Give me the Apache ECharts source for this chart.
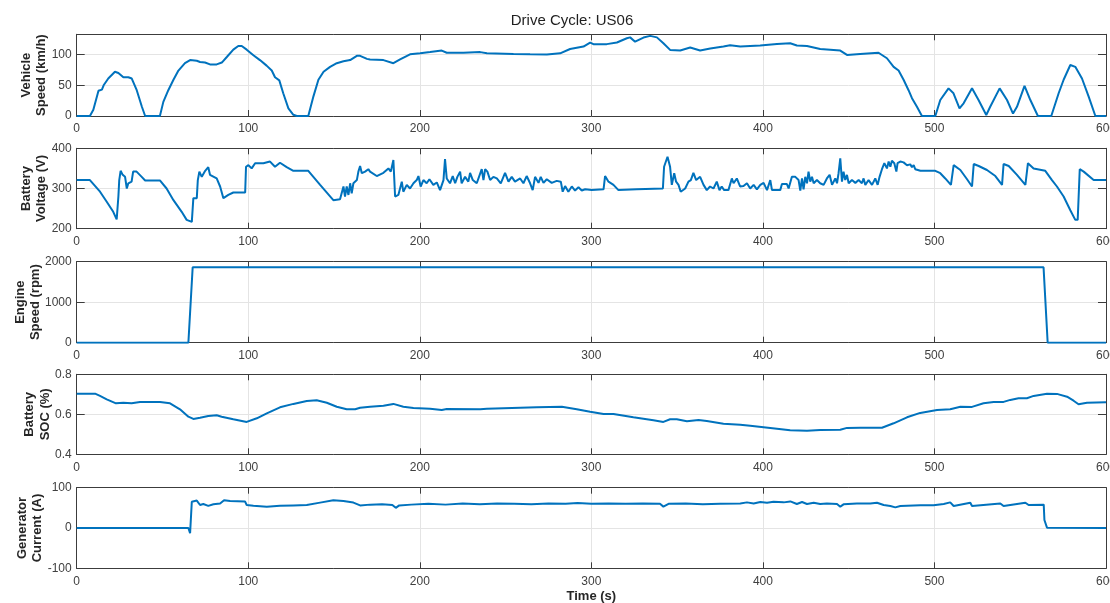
<!DOCTYPE html>
<html><head><meta charset="utf-8">
<script src="https://cdn.jsdelivr.net/npm/echarts@6/dist/echarts.min.js"></script>
<style>html,body{margin:0;padding:0;background:#fff}#c{width:1110px;height:603px}</style>
</head><body><div id="c"></div>
<script>
const titleText = 'Drive Cycle: US06';
const xName = 'Time (s)';
const panelNames = ['Vehicle\nSpeed (km/h)', 'Battery\nVoltage (V)', 'Engine\nSpeed (rpm)', 'Battery\nSOC (%)', 'Generator\nCurrent (A)'];
const xLimits = [0, 600];
const xStep = 100;
const yMins = [0, 200, 0, 0.4, -100];
const yMaxs = [133, 400, 2000, 0.8, 100];
const ySteps = [50, 100, 1000, 0.2, 100];

const speedTime = [0,7.7,9.7,12.7,14.7,15.7,18.4,22.3,24.3,27.2,30.1,32.1,35,38,39.9,48.5,50.5,53.4,56.4,59.3,63.1,66.1,70,71.9,74.8,77.7,81.6,84.6,87.5,91.3,94.2,96.2,99.1,103,106.8,110.7,113.7,115.6,118.1,120.4,123.4,126.3,128.3,135,138,140.9,143.9,147.7,151.6,155.5,159.4,163.3,165.2,169.2,171,178.8,184.6,188.5,194.3,200.2,206,212.8,215.7,225.4,235.2,239.1,254.6,264.3,274.1,281.8,287.6,295.4,299.3,301.2,309,314.9,320.7,322.6,325.5,330.4,334.3,338.2,342,345.9,351.8,357.6,363.4,369.3,377,380.9,386.8,398.4,408.2,415.9,419.8,425.7,433.4,445.1,449,456.7,467.4,472.3,476.2,479.1,482,484.9,486.9,489.8,492.7,500.5,503.4,508.2,511.1,514.6,517,521.9,525.7,530.2,532.5,538,542.3,545.8,548.1,552.5,555.9,560.3,568.1,572.4,575.3,579.2,582.1,586,589.9,593.8,600];
const speedValue = [0,0,10,41,43,50,61,72,70,63,63,61,42,15,0,0,23,42,59,74,86,91,90,88,87,84,84,87,96,108,114,114,108,99,91,82,74,63,58,37,12.5,2,0,0,32,59,72,80,86,89,91,98,98,93,92,91,86,92,100.5,102,104,106.5,103,103,104,102,101,100.5,100,102,109,113,119.6,117,117,119.6,126.6,128,121,127.7,130.4,128,118.5,107.6,106.5,111.4,106.5,110,113,115,113,114.7,117.4,118.5,114.7,114,109,106.5,99.5,101,103,94,80,74,59,42,29,15,0,0,26,45,37,12.5,20.6,45,26,1.6,15,45,26,4,15,49,26,0,0,37,59,83,80,61,31.5,0,0];

const voltagePoints = [[0,321],[7.7,321],[13.6,292],[17.5,267],[21.3,242],[23.3,223],[24.3,280],[24.8,321],[25.6,344],[26.8,334],[28.2,329],[29.2,300],[30.1,313],[31,309],[32,317],[32.9,342],[34.9,342],[37.9,329],[39.9,320],[48.5,320],[52.4,300],[56.4,271],[61.2,242],[64.1,222],[67.1,217],[68,276],[70,276],[70.6,321],[71.5,342],[72.9,329],[74.9,344],[76.7,353],[77.7,334],[81.6,325],[83.6,305],[85.5,276],[88.4,284],[91.3,290],[98.2,290],[98.7,354],[100.1,358],[102,350],[104,363],[108.8,363],[112.7,367],[113.6,363],[115.6,354],[116.6,356],[118.5,364],[122.4,353],[126.3,344],[135,344],[141.9,309],[149.6,271],[153.5,273],[155.5,305],[156.4,280],[157.4,305],[158.4,284],[159.4,313],[160.3,288],[161.3,313],[163.3,321],[164.2,342],[165.2,356],[166.2,338],[168.1,342],[170,348],
[171,342],[174.9,331],[178.8,339],[181.7,350],[183.1,342],[184.6,371],[185.6,280],[187.5,284],[189.5,317],[190.4,292],[192.4,309],[194.3,300],[196.3,313],[198.2,321],[199.2,331],[200.5,305],[202.1,321],[204,313],[205.6,323],[207.9,309],[209.9,315],[211.8,296],[213.8,321],[214.7,373],[215.7,325],[217.6,313],[219.2,331],[220.6,313],[221.9,329],[223.5,342],[224.4,313],[226.4,329],[228.3,317],[229.3,339],[230.9,321],[233.2,313],[236.1,348],[237.1,321],[238.1,348],[239.4,342],[241,321],[242.9,329],[244.9,325],[247.2,313],[249.7,339],[251.7,317],[253.6,329],[255.5,317],[258.5,325],[260.4,313],[262.3,331],[264.3,313],[265.8,296],[267.2,329],[269.2,314],[270.5,329],[272.1,314],[274,323],[276.9,314],[279.8,319],[282.2,317],[283.3,292],[284.7,306],[286.6,292],[288.6,305],[290.5,295],[292.5,303],[294.4,295],[296.4,298],[300.2,296],[307.1,298],[308,331],[310,317],[312.9,309],[315.8,296],[326.5,298],[341.7,300],[342.4,354],[344.4,379],[345.9,354],[346.9,309],[348.3,338],[349.4,317],[350.8,309],[352.1,292],[354.7,300],[356.6,317],[358,321],[359.5,339],[361.1,321],[363.4,329],[365.4,309],[367.3,296],[369.2,305],[371.2,300],[373.1,317],[374.7,296],[376,305],[377.4,296],[379.9,296],[381.9,325],[382.9,313],[384.8,325],[386.7,305],
[388.7,306],[390.7,313],[392.6,300],[394.6,309],[396.5,298],[398.5,309],[400.4,314],[402.4,296],[404.3,321],[405.3,296],[410.1,296],[411.1,311],[414,311],[415,300],[416,298],[416.9,329],[418.9,329],[420.8,321],[421.8,295],[422.8,325],[423.7,298],[424.7,329],[425.7,313],[426.6,342],[427.6,317],[428.6,329],[429.6,313],[431.5,321],[433.4,313],[435.4,309],[437.3,325],[438.9,334],[440.3,309],[442.2,325],[443.2,313],[444.1,338],[445.1,375],[446.1,317],[447,342],[448,321],[449,334],[450,313],[451.9,321],[453.9,314],[455.8,321],[457.7,313],[458.7,325],[459.7,309],[461.6,321],[463.6,309],[465.5,325],[466.9,309],[468,329],[469.4,348],[470.8,363],[472.3,350],[473.3,367],[474.3,354],[475.2,369],[476.6,363],[477.8,342],[478.5,363],[480.1,367],[482,365],[484,358],[485.9,360],[486.9,353],[487.9,358],[488.8,348],[491.8,344],[500.5,344],[503.4,338],[506.3,325],[509.6,309],[511.2,358],[515.1,346],[519,323],[521.9,305],[522.9,361],[525.8,356],[530.6,346],[535.5,331],[539.4,309],[540.3,361],[543.3,356],[548.1,334],[553,309],[554.5,363],[557.8,350],[564.6,344],[568.5,321],[571.4,305],[575.3,280],[579.2,246],[582.1,222],[583.5,222],[584.7,348],[587,342],[592.8,321],[600,321]];

const enginePoints = [[0,0],[65.1,0],[67.6,1860],[563.6,1860],[566,0],[600,0]];

const socPoints = [[0,0.703],[10.7,0.703],[13.6,0.692],[17.5,0.675],[22.9,0.655],[27.2,0.658],[32,0.655],[36.9,0.662],[48.6,0.662],[54.4,0.655],[60.2,0.625],[65.1,0.588],[68,0.577],[71.9,0.583],[76.7,0.592],[81.6,0.595],[84.5,0.588],[91.3,0.575],[99.1,0.562],[105,0.58],[110.8,0.605],[118.5,0.635],[126.3,0.652],[134.1,0.667],[139.9,0.67],[145.8,0.658],[151.6,0.638],[157.4,0.625],[162.3,0.625],[165.2,0.633],[171,0.638],[178.8,0.643],[184.6,0.652],[190.4,0.638],[196.3,0.632],[206,0.628],[212.8,0.622],[215.7,0.627],[235.2,0.625],[239.1,0.628],[258.5,0.633],[268.2,0.635],[282.8,0.638],[291.5,0.625],[299.3,0.613],[307.1,0.602],[312.9,0.602],[324.5,0.585],[336.2,0.57],[342,0.562],[345.9,0.575],[349.8,0.575],[355.7,0.565],[362.5,0.572],[367.3,0.567],[377,0.553],[386.8,0.548],[392.6,0.543],[404.3,0.532],[415.9,0.52],[425.7,0.518],[433.4,0.522],[445.1,0.523],[449,0.532],[456.7,0.533],[469.4,0.533],[476.2,0.555],[484,0.585],[491.7,0.607],[501.5,0.622],[509.2,0.625],[515.1,0.638],[521.9,0.637],[528.6,0.655],[534.5,0.662],[540.3,0.662],[544.2,0.672],[549,0.68],[553.9,0.68],[557.8,0.692],[565.6,0.703],[571.4,0.702],[577.3,0.688],[581.1,0.668],[584,0.65],[588.9,0.658],[600,0.66]];

const currentPoints = [[0,0],[65.1,0],[66.1,-13],[67.1,65],[68,69],[70,68],[71.9,57],[73.8,59.5],[76.7,55],[79.7,59],[83.6,61],[85.9,69],[89.4,67],[98.1,66],[99.1,57],[103,55],[110.8,53],[118.5,55],[126.3,56],[134.1,57],[141.9,63],[149.6,69],[155.5,67],[161.3,63],[165.2,56],[171,58],[178,59],[184,57],[186,50],[188,56],[195,58],[205,60],[215,58],[225,61],[235,59],[245,61],[255,60],[265,59],[275,61],[285,60],[292,62],[300,60],[310,61],[320,60],[330,61],[340,60],[342,53],[345,60],[355,61],[365,59],[375,60],[386.8,61],[390.7,63.6],[394.6,61],[398.5,64.5],[402.4,62.8],[406.2,65.3],[412.1,63.6],[416,66],[419.8,59.5],[422.8,64.5],[425.7,59.5],[429.6,62.8],[433.4,59.5],[437.3,61],[443.2,59.5],[445.1,52.9],[447,58.7],[454.8,61],[462.6,61],[466.5,62.8],[470.4,57],[474.3,54.5],[477.2,51.2],[480.1,54.5],[491.8,56.2],[499.5,56.2],[505.4,59.5],[509.2,63.6],[511.2,54.5],[520.9,62.8],[521.9,54.5],[538.4,61],[540.3,54.5],[553,62.8],[554.9,57],[563.7,57.9],[564.1,19.8],[565.6,0.8],[566.5,0],[600,0]];

const speedPoints = speedTime.map((t, i) => [t, speedValue[i]]);
const allSeries = [speedPoints, voltagePoints, enginePoints, socPoints, currentPoints];

// layout
const FONT = '"Liberation Sans", Arial, Helvetica, sans-serif';
const gridLeft = 76.7, gridRight = 4;
const gridTops = [34.3, 148.3, 261.7, 374.3, 487.7];
const gridHeights = [81.7, 80.4, 81, 80, 80.6];
const nameGaps = [27.5, 27.2, 33.2, 23.9, 31.4];
const axisColor = '#3c3c3c';
const labelColor = '#404040';
const gridColor = '#e4e4e4';

const grids = [], xAxes = [], yAxes = [], series = [];
for (let i = 0; i < 5; i++) {
  grids.push({ left: gridLeft, right: gridRight, top: gridTops[i], height: gridHeights[i], containLabel: false, outerBoundsMode: 'none' });
  const base = {
    gridIndex: i, type: 'value', min: xLimits[0], max: xLimits[1], interval: xStep,
    axisLine: { show: true, onZero: false, lineStyle: { color: axisColor, width: 1 } },
    axisTick: { show: true, inside: true, length: 6, lineStyle: { color: axisColor } }
  };
  xAxes.push(Object.assign({}, base, {
    position: 'bottom',
    axisLabel: { show: true, color: labelColor, fontSize: 12, fontFamily: FONT, margin: 7, hideOverlap: false },
    splitLine: { show: true, lineStyle: { color: gridColor, width: 1 } },
    name: i === 4 ? xName : '', nameLocation: 'middle', nameGap: 22, nameMoveOverlap: false,
    nameTextStyle: { fontWeight: 'bold', fontSize: 13, color: '#262626', fontFamily: FONT }
  }));
  xAxes.push(Object.assign({}, base, {
    position: 'top', axisLabel: { show: false }, splitLine: { show: false }
  }));
  const step = ySteps[i];
  const ybase = {
    gridIndex: i, type: 'value', min: yMins[i], max: yMaxs[i], interval: step,
    axisLine: { show: true, onZero: false, lineStyle: { color: axisColor, width: 1 } },
    axisTick: { show: true, inside: true, length: 8, lineStyle: { color: axisColor } }
  };
  yAxes.push(Object.assign({}, ybase, {
    position: 'left',
    axisLabel: {
      show: true, color: labelColor, fontSize: 12, fontFamily: FONT, margin: 5,
      formatter: v => {
        const k = (v - yMins[i]) / step;
        if (Math.abs(k - Math.round(k)) > 1e-6) return '';
        return String(+v.toFixed(1));
      }
    },
    splitLine: { show: true, lineStyle: { color: gridColor, width: 1 } },
    name: panelNames[i], nameLocation: 'middle', nameRotate: 90, nameGap: nameGaps[i], nameMoveOverlap: false,
    nameTextStyle: { fontWeight: 'bold', fontSize: 13, color: '#262626', fontFamily: FONT, lineHeight: 15.5 }
  }));
  yAxes.push(Object.assign({}, ybase, {
    position: 'right', axisLabel: { show: false }, splitLine: { show: false }
  }));
  series.push({
    type: 'line', xAxisIndex: i * 2, yAxisIndex: i * 2, data: allSeries[i],
    showSymbol: false, symbol: 'none', smooth: false, clip: true,
    lineStyle: { color: '#0072BD', width: 2 }, z: 5
  });
}

const chart = echarts.init(document.getElementById('c'), null, { renderer: 'canvas' });
chart.setOption({
  animation: false,
  backgroundColor: '#ffffff',
  textStyle: { fontFamily: FONT },
  grid: grids, xAxis: xAxes, yAxis: yAxes, series: series,
  graphic: [{
    type: 'text', x: 572, y: 21,
    style: { text: titleText, fill: '#1f1f1f', font: '15px ' + FONT, align: 'center', verticalAlign: 'middle' }
  }]
});
</script></body></html>
